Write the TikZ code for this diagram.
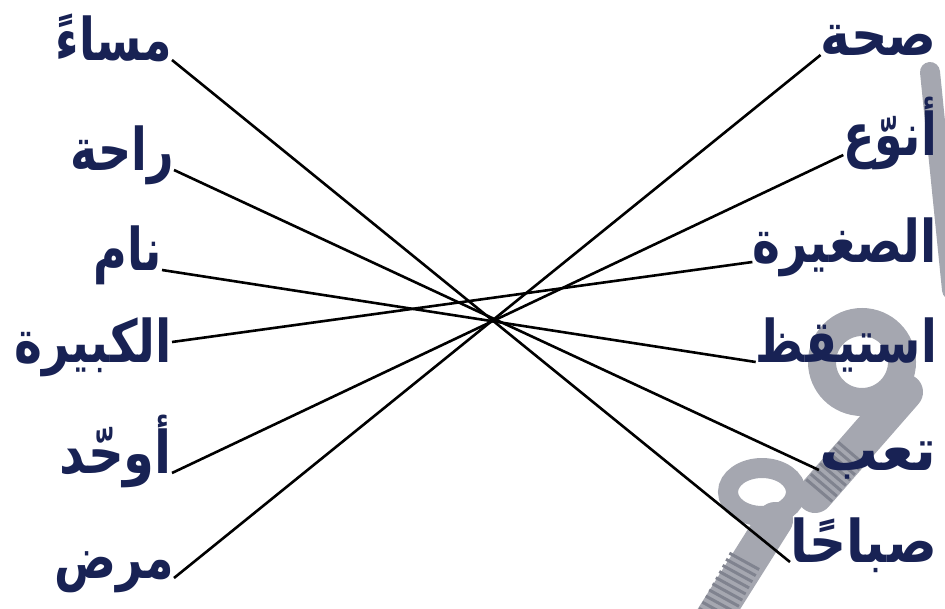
\documentclass[tikz,border=0pt]{standalone}
\usepackage{graphicx}
\usepackage{fontspec}
\newfontfamily\arabicfont[Script=Arabic]{DejaVu Sans}
\TeXXeTstate=1
\definecolor{wordblue}{RGB}{24,34,84}
\definecolor{wmgray}{RGB}{165,167,176}
\definecolor{wmdark}{RGB}{128,131,143}
% a word, stretched up a little (optional width factor)
\newcommand\wordbox[2][1]{\scalebox{#1}[1.28]{\beginR #2\endR}}
\tikzset{
    word/.style={font=\arabicfont\bfseries\fontsize{46}{52}\selectfont, text=wordblue, inner sep=0pt, anchor=base east},
    link/.style={draw=black, line width=2.6pt},
    wmband/.style={draw=wmgray, line cap=round},
    wmstripe/.style={draw=wmdark, dash pattern=on 3 off 4}
}

\begin{document}
\begin{tikzpicture}[x=1pt,y=-1pt]
    \useasboundingbox (0,0) rectangle (945,608);
    % watermark behind the words
    \draw[wmband, line width=20] (930,72) -- (952,290);
    \draw[wmband, line width=28] (862,362) circle (40);
    \draw[wmband, line width=36] (905,392) -- (815,495);
    \draw[wmband, line width=20] (762,492) ellipse (34 and 24);
    \draw[wmband, line width=36] (775,520) -- (712,620);
    \draw[wmstripe, line width=34] (852,452) -- (818,492);
    \draw[wmstripe, line width=34] (745,560) -- (712,620);
    % left column
    \node[word] (masa)    at (172,60)  {\wordbox{مساءً}};
    \node[word] (raha)    at (174,170) {\wordbox{راحة}};
    \node[word] (nam)     at (162,270) {\wordbox{نام}};
    \node[word] (kabira)  at (172,362) {\wordbox[1.03]{الكبيرة}};
    \node[word] (uwahhid) at (172,473) {\wordbox[1.08]{أوحّد}};
    \node[word] (marad)   at (174,578) {\wordbox{مرض}};
    % right column
    \node[word] (sihha)    at (937,55)  {\wordbox[1.1]{صحة}};
    \node[word] (unawwi)   at (937,155) {\wordbox{أنوّع}};
    \node[word] (saghira)  at (937,262) {\wordbox[1.03]{الصغيرة}};
    \node[word] (istayqaz) at (937,362) {\wordbox{استيقظ}};
    \node[word] (taab)     at (937,470) {\wordbox[1.28]{تعب}};
    \node[word] (sabahan)  at (937,562) {\wordbox[1.12]{صباحًا}};
    % matching lines
    \foreach \a/\b in {masa/sabahan, raha/taab, nam/istayqaz, uwahhid/unawwi, marad/sihha}
        \draw[link] (\a.base east) -- (\b.base west);
    \draw[link] ([yshift=20]kabira.base east) -- (saghira.base west);
\end{tikzpicture}
\end{document}
